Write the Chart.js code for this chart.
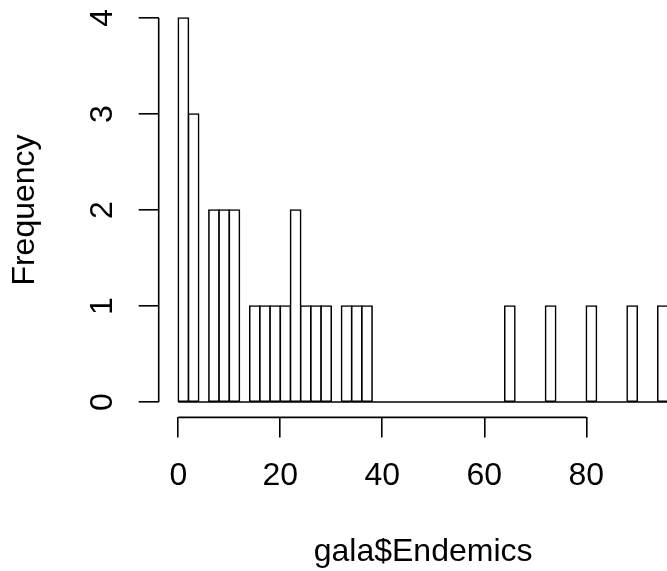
<!DOCTYPE html>
<html>
<head>
<meta charset="utf-8">
<script src="https://cdn.jsdelivr.net/npm/chart.js@4/dist/chart.umd.min.js"></script>
<style>
  html, body { margin: 0; padding: 0; background: #fff; overflow: hidden; }
  #frame { width: 667px; height: 571px; overflow: hidden; }
  canvas { display: block; }
</style>
</head>
<body>
<div id="frame"><canvas id="hist" width="768" height="571"></canvas></div>
<script>
// histogram of gala$Endemics, bins of width 2 (right-closed)
var BREAKS = [0, 2, 4, 6, 8, 10, 12, 14, 16, 18, 20, 22, 24, 26, 28, 30, 32, 34, 36, 38,
  40, 42, 44, 46, 48, 50, 52, 54, 56, 58, 60, 62, 64, 66, 68, 70, 72, 74, 76, 78,
  80, 82, 84, 86, 88, 90, 92, 94, 96];
var COUNTS = [4, 3, 0, 2, 2, 2, 0, 1, 1, 1, 1, 2, 1, 1, 1, 0, 1, 1, 1, 0,
  0, 0, 0, 0, 0, 0, 0, 0, 0, 0, 0, 0, 1, 0, 0, 0, 1, 0, 0, 0,
  1, 0, 0, 0, 1, 0, 0, 1];
var X_TICKS = [0, 20, 40, 60, 80];
var Y_TICKS = [0, 1, 2, 3, 4];
var X_TITLE = 'gala$Endemics';
var Y_TITLE = 'Frequency';

var LINE_W = 1.6;
var FONT_SIZE = 32;

Chart.defaults.font.family = '"Liberation Sans", Arial, Helvetica, sans-serif';
Chart.defaults.color = '#000';

// base R pads the axis range by 4% on each side
function padded(lo, hi) {
  var pad = (hi - lo) * 0.04;
  return { min: lo - pad, max: hi + pad };
}

var xRange = padded(BREAKS[0], BREAKS[BREAKS.length - 1]);
var yRange = padded(0, Math.max.apply(null, COUNTS));

var bars = COUNTS.map(function (c, i) {
  return { x: (BREAKS[i] + BREAKS[i + 1]) / 2, y: c };
});

// R-style axis lines: only from first to last tick
var rAxisLines = {
  id: 'rAxisLines',
  afterDraw: function (chart) {
    var ctx = chart.ctx;
    var area = chart.chartArea;
    var xs = chart.scales.x, ys = chart.scales.y;
    ctx.save();
    ctx.strokeStyle = '#000';
    ctx.lineWidth = LINE_W;
    ctx.beginPath();
    ctx.moveTo(xs.getPixelForValue(X_TICKS[0]), area.bottom);
    ctx.lineTo(xs.getPixelForValue(X_TICKS[X_TICKS.length - 1]), area.bottom);
    ctx.moveTo(area.left, ys.getPixelForValue(Y_TICKS[0]));
    ctx.lineTo(area.left, ys.getPixelForValue(Y_TICKS[Y_TICKS.length - 1]));
    ctx.stroke();
    ctx.restore();
  }
};

function tickGrid() {
  return {
    display: true,
    offset: false,
    drawOnChartArea: false,
    drawTicks: true,
    tickLength: 20,
    color: '#000',
    lineWidth: LINE_W
  };
}

// keep the plot region where base R puts it (margins are fixed, not label driven)
function noLabelPadding(s) {
  s.paddingTop = 0;
  s.paddingBottom = 0;
  s.paddingLeft = 0;
  s.paddingRight = 0;
}

new Chart(document.getElementById('hist'), {
  type: 'bar',
  data: {
    datasets: [
      {
        type: 'line',
        data: [{ x: BREAKS[0], y: 0 }, { x: BREAKS[BREAKS.length - 1], y: 0 }],
        borderColor: '#000',
        borderWidth: LINE_W,
        pointRadius: 0,
        order: 0
      },
      {
        type: 'bar',
        data: bars,
        backgroundColor: '#fff',
        borderColor: '#000',
        borderWidth: LINE_W,
        borderSkipped: false,
        inflateAmount: LINE_W / 2,
        barPercentage: 1,
        categoryPercentage: 1,
        order: 1
      }
    ]
  },
  options: {
    responsive: false,
    animation: false,
    events: [],
    layout: { padding: { left: 0, top: 2.6, right: 80.5, bottom: 0 } },
    plugins: { legend: { display: false }, tooltip: { enabled: false } },
    scales: {
      x: {
        type: 'linear',
        offset: false,
        min: xRange.min,
        max: xRange.max,
        afterBuildTicks: function (s) { s.ticks = X_TICKS.map(function (v) { return { value: v }; }); },
        afterFit: function (s) { s.height = 153.6; noLabelPadding(s); },
        grid: tickGrid(),
        border: { display: false },
        ticks: { font: { size: FONT_SIZE }, padding: 20, maxRotation: 0, autoSkip: false },
        title: { display: true, text: X_TITLE, font: { size: FONT_SIZE }, padding: { top: 0, bottom: 0 } }
      },
      y: {
        type: 'linear',
        min: yRange.min,
        max: yRange.max,
        afterBuildTicks: function (s) { s.ticks = Y_TICKS.map(function (v) { return { value: v }; }); },
        afterFit: function (s) { s.width = 158.7; noLabelPadding(s); },
        grid: tickGrid(),
        border: { display: false },
        ticks: { font: { size: FONT_SIZE }, padding: 27, minRotation: 90, maxRotation: 90, crossAlign: 'center', autoSkip: false },
        title: { display: true, text: Y_TITLE, font: { size: FONT_SIZE }, padding: { top: 6, bottom: 0 } }
      }
    }
  },
  plugins: [rAxisLines]
});
</script>
</body>
</html>
